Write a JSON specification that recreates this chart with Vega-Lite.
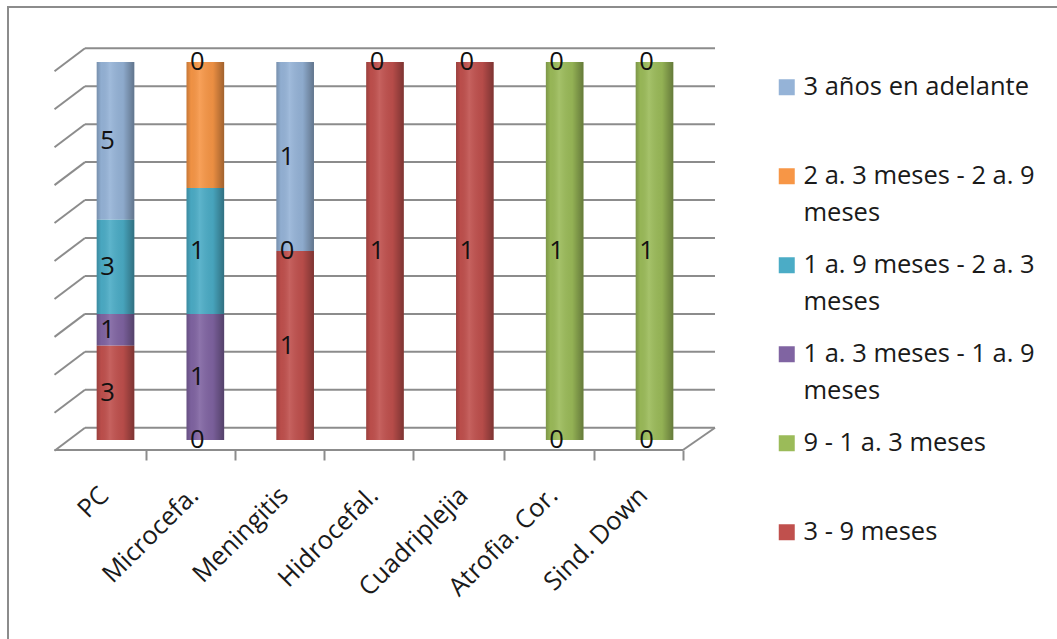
{
  "$schema": "https://vega.github.io/schema/vega-lite/v6.json",
  "width": 1052,
  "height": 635,
  "autosize": {"type": "none"},
  "padding": {"left": 8, "top": 7, "right": -3, "bottom": -3},
  "background": "white",
  "config": {
    "view": {"stroke": "#8c8c8c", "strokeWidth": 2},
    "font": "Open Sans",
    "style": {"guide-label": {"lineHeight": 37}}
  },
  "datasets": {
    "datos": [
      {"cat": "PC", "serie": "3 - 9 meses", "orden": 1, "n": 3, "etiqueta": "3"},
      {"cat": "PC", "serie": "1 a. 3 meses - 1 a. 9 meses", "orden": 3, "n": 1, "etiqueta": "1"},
      {"cat": "PC", "serie": "1 a. 9 meses - 2 a. 3 meses", "orden": 4, "n": 3, "etiqueta": "3"},
      {"cat": "PC", "serie": "3 años en adelante", "orden": 6, "n": 5, "etiqueta": "5"},
      {"cat": "Microcefa.", "serie": "3 - 9 meses", "orden": 1, "n": 0, "etiqueta": "0"},
      {"cat": "Microcefa.", "serie": "1 a. 3 meses - 1 a. 9 meses", "orden": 3, "n": 1, "etiqueta": "1"},
      {"cat": "Microcefa.", "serie": "1 a. 9 meses - 2 a. 3 meses", "orden": 4, "n": 1, "etiqueta": "1"},
      {"cat": "Microcefa.", "serie": "2 a. 3 meses - 2 a. 9 meses", "orden": 5, "n": 1, "etiqueta": ""},
      {"cat": "Microcefa.", "serie": "3 años en adelante", "orden": 6, "n": 0, "etiqueta": "0"},
      {"cat": "Meningitis", "serie": "3 - 9 meses", "orden": 1, "n": 1, "etiqueta": "1"},
      {"cat": "Meningitis", "serie": "1 a. 9 meses - 2 a. 3 meses", "orden": 4, "n": 0, "etiqueta": "0"},
      {"cat": "Meningitis", "serie": "3 años en adelante", "orden": 6, "n": 1, "etiqueta": "1"},
      {"cat": "Hidrocefal.", "serie": "3 - 9 meses", "orden": 1, "n": 1, "etiqueta": "1"},
      {"cat": "Hidrocefal.", "serie": "3 años en adelante", "orden": 6, "n": 0, "etiqueta": "0"},
      {"cat": "Cuadriplejia", "serie": "3 - 9 meses", "orden": 1, "n": 1, "etiqueta": "1"},
      {"cat": "Cuadriplejia", "serie": "3 años en adelante", "orden": 6, "n": 0, "etiqueta": "0"},
      {"cat": "Atrofia. Cor.", "serie": "3 - 9 meses", "orden": 1, "n": 0, "etiqueta": "0"},
      {"cat": "Atrofia. Cor.", "serie": "9 - 1 a. 3 meses", "orden": 2, "n": 1, "etiqueta": "1"},
      {"cat": "Atrofia. Cor.", "serie": "3 años en adelante", "orden": 6, "n": 0, "etiqueta": "0"},
      {"cat": "Sind. Down", "serie": "3 - 9 meses", "orden": 1, "n": 0, "etiqueta": "0"},
      {"cat": "Sind. Down", "serie": "9 - 1 a. 3 meses", "orden": 2, "n": 1, "etiqueta": "1"},
      {"cat": "Sind. Down", "serie": "3 años en adelante", "orden": 6, "n": 0, "etiqueta": "0"}
    ],
    "rejilla": [
      {"g": 0}, {"g": 10}, {"g": 20}, {"g": 30}, {"g": 40}, {"g": 50},
      {"g": 60}, {"g": 70}, {"g": 80}, {"g": 90}, {"g": 100}
    ]
  },
  "layer": [
    {
      "data": {"name": "rejilla"},
      "layer": [
        {
          "mark": {"type": "rule", "color": "#8c8c8c", "strokeWidth": 2},
          "encoding": {
            "x": {
              "datum": 0, "type": "quantitative",
              "scale": {"domain": [0, 1], "range": [77, 707], "zero": false, "nice": false},
              "axis": {
                "orient": "bottom", "offset": -192, "domain": false, "grid": false, "labels": false, "title": null,
                "values": [-0.0476, 0.0968, 0.2381, 0.3794, 0.5206, 0.6651, 0.8079, 0.9492],
                "tickSize": 10, "tickWidth": 2, "tickColor": "#8c8c8c"
              }
            },
            "x2": {"datum": 1},
            "y": {"field": "g", "type": "quantitative", "scale": {"domain": [0, 100], "range": [420.7, 41.3], "zero": false, "nice": false}, "axis": null}
          }
        },
        {
          "mark": {"type": "rule", "color": "#8c8c8c", "strokeWidth": 2, "yOffset": 23},
          "encoding": {
            "x": {"datum": -0.0484, "type": "quantitative"},
            "x2": {"datum": 0},
            "y": {"field": "g", "type": "quantitative"},
            "y2": {"field": "g"}
          }
        },
        {
          "data": {"values": [{"g": 0}]},
          "mark": {"type": "rule", "color": "#8c8c8c", "strokeWidth": 2, "yOffset": 22.3},
          "encoding": {
            "x": {"datum": -0.0484, "type": "quantitative"},
            "x2": {"datum": 0.9492},
            "y": {"field": "g", "type": "quantitative"}
          }
        },
        {
          "data": {"values": [{"g": 0}]},
          "mark": {"type": "rule", "color": "#8c8c8c", "strokeWidth": 2, "yOffset": 22.3},
          "encoding": {
            "x": {"datum": 0.9492, "type": "quantitative"},
            "x2": {"datum": 1},
            "y": {"field": "g", "type": "quantitative"},
            "y2": {"field": "g"}
          }
        }
      ]
    },
    {
      "data": {"name": "datos"},
      "layer": [
        {
          "mark": {"type": "bar"},
          "encoding": {
            "x": {
              "field": "cat", "type": "nominal", "sort": null,
              "scale": {"type": "band", "range": [88.7, 665.3], "paddingInner": 0.5814, "paddingOuter": 0},
              "axis": {
                "orient": "bottom", "offset": -192, "domain": false, "grid": false, "ticks": false,
                "labelAngle": -45, "labelAlign": "right", "labelBaseline": "middle",
                "labelFontSize": 25.5, "labelFont": "Open Sans", "labelColor": "#1a1a1a",
                "labelPadding": 41, "labelOffset": -11, "labelOverlap": false, "labelFlush": false, "labelBound": false,
                "title": null
              }
            },
            "y": {
              "field": "n", "type": "quantitative", "stack": "normalize",
              "scale": {"domain": [0, 1], "range": [433, 55], "nice": false, "zero": false},
              "axis": null
            },
            "color": {
              "field": "serie", "type": "nominal",
              "scale": {
                "domain": ["3 años en adelante", "2 a. 3 meses - 2 a. 9 meses", "1 a. 9 meses - 2 a. 3 meses", "1 a. 3 meses - 1 a. 9 meses", "9 - 1 a. 3 meses", "3 - 9 meses"],
                "range": ["#95B3D7", "#F79646", "#4BACC6", "#8064A2", "#9BBB59", "#C0504D"]
              },
              "legend": {
                "orient": "none", "legendX": 766, "legendY": 67.5, "title": null, "padding": 0,
                "symbolType": "square", "symbolSize": 256, "symbolStrokeWidth": 0,
                "labelFontSize": 25.5, "labelFont": "Open Sans", "labelColor": "#1a1a1a", "labelLimit": 0,
                "labelOffset": 4, "rowPadding": 25, "gridAlign": "all",
                "labelExpr": "length(datum.label) > 20 ? [substring(datum.label, 0, length(datum.label) - 6), 'meses'] : datum.label"
              }
            },
            "order": {"field": "orden", "type": "quantitative"}
          }
        },
        {
          "mark": {
            "type": "bar",
            "fill": {
              "gradient": "linear", "x1": 0, "x2": 1, "y1": 0, "y2": 0,
              "stops": [
                {"offset": 0, "color": "rgba(0,0,0,0.20)"},
                {"offset": 0.12, "color": "rgba(0,0,0,0.03)"},
                {"offset": 0.35, "color": "rgba(255,255,255,0.10)"},
                {"offset": 0.7, "color": "rgba(0,0,0,0.05)"},
                {"offset": 1, "color": "rgba(0,0,0,0.35)"}
              ]
            }
          },
          "encoding": {
            "x": {"field": "cat", "type": "nominal", "sort": null},
            "y": {"field": "n", "type": "quantitative", "stack": "normalize"},
            "detail": {"field": "serie"},
            "order": {"field": "orden", "type": "quantitative"}
          }
        },
        {
          "mark": {"type": "text", "fontSize": 25.5, "font": "Open Sans", "dx": -8, "color": "#111111", "align": "center", "baseline": "middle"},
          "encoding": {
            "x": {"field": "cat", "type": "nominal", "sort": null},
            "y": {"field": "n", "type": "quantitative", "stack": "normalize", "bandPosition": 0.5},
            "detail": {"field": "serie"},
            "order": {"field": "orden", "type": "quantitative"},
            "text": {"field": "etiqueta", "type": "nominal"}
          }
        }
      ]
    }
  ],
  "resolve": {"scale": {"x": "independent", "y": "independent"}}
}
